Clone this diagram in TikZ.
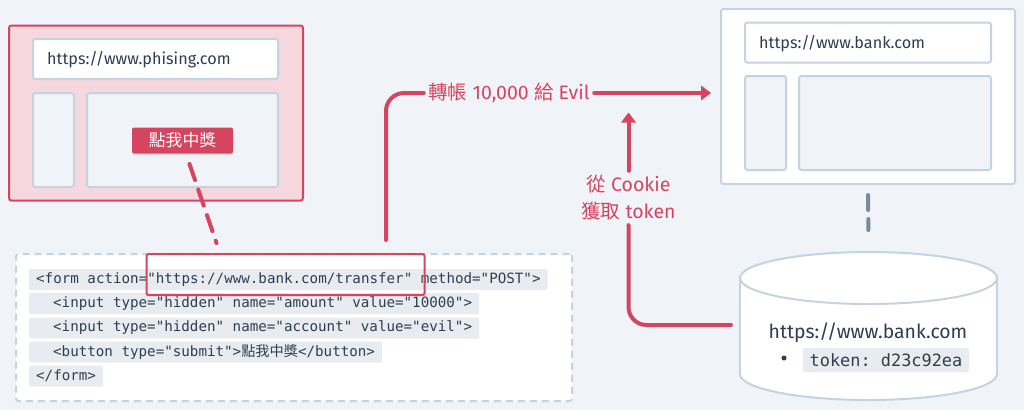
\documentclass[tikz,border=0pt]{standalone}
\usepackage{fontspec}
\setmainfont{Fira Sans}
\setmonofont{DejaVu Sans Mono}
\newfontfamily\cjk{Noto Sans CJK TC}
\usetikzlibrary{shapes.geometric,shadows}

\begin{document}
\begin{tikzpicture}[x=1pt, y=-1pt,
    pane/.style={draw=paneColour, line width=2pt, rounded corners=2.5pt, inner sep=0pt},
    urlText/.style={anchor=west, inner sep=0pt, text=inkColour, font=\fontsize{16.2}{19}\selectfont},
    codeLine/.style={anchor=west, fill=chipColour, rounded corners=1.5pt, text=inkColour, inner xsep=7pt, inner ysep=0pt, minimum height=21pt, font=\fontsize{14.2}{17}\ttfamily},
    flowLabel/.style={text=redColour, align=center, inner sep=4.5pt, font=\fontsize{19.5}{27}\selectfont},
    flow/.style={draw=redColour, line width=4pt, line cap=round, rounded corners=18pt},
    flowTip/.style={fill=redColour, draw=none}]
    \definecolor{backColour}{HTML}{F0F4F8}
    \definecolor{paneColour}{HTML}{C5D3E0}
    \definecolor{redColour}{HTML}{D64560}
    \definecolor{pinkColour}{HTML}{F6D7DD}
    \definecolor{inkColour}{HTML}{2F3E4E}
    \definecolor{chipColour}{HTML}{E8ECF0}
    \definecolor{greyColour}{HTML}{7B8A99}

    % Draw background
    \fill[backColour] (0,0) rectangle (1024,410);
    \useasboundingbox (0,0) rectangle (1024,410);

    % Phishing page
    \node[pane, draw=redColour, fill=pinkColour, minimum width=294pt, minimum height=175pt] (phishBox) at (156,113) {};
    \node[pane, fill=white, minimum width=245pt, minimum height=40pt] (phishUrl) at (155.5,59) {};
    \node[pane, fill=backColour, minimum width=41pt, minimum height=94pt] (phishSide) at (53.5,140) {};
    \node[pane, fill=backColour, minimum width=191pt, minimum height=94pt] (phishMain) at (182.5,140) {};
    \node[urlText] (phishText) at (47,60) {https://www.phising.com};
    \node[fill=redColour, rounded corners=2pt, minimum width=101pt, minimum height=26pt, inner sep=0pt, text=white, drop shadow={opacity=0.15, shadow xshift=0pt, shadow yshift=-2pt}, font=\fontsize{16.8}{20}\cjk] (phishButton) at (182.5,140.5) {點我中獎};

    % Bank page
    \node[pane, fill=white, minimum width=294pt, minimum height=175pt] (bankBox) at (868,96.5) {};
    \node[pane, fill=white, minimum width=246pt, minimum height=40pt] (bankUrl) at (868,42.5) {};
    \node[pane, fill=backColour, minimum width=41pt, minimum height=94pt] (bankSide) at (765.5,123) {};
    \node[pane, fill=backColour, minimum width=192pt, minimum height=94pt] (bankMain) at (895,123) {};
    \node[urlText] (bankText) at (759,43.5) {https://www.bank.com};

    % Code block
    \node[pane, fill=white, dashed, dash pattern=on 7pt off 5pt, minimum width=556pt, minimum height=147pt] (codeBox) at (294,327.5) {};
    \node[codeLine] (lineA) at (29,279.5) {<form action="https://www.bank.com/transfer" method="POST">};
    \node[codeLine] (lineB) at (29,303.5) {\hspace*{17pt}<input type="hidden" name="amount" value="10000">};
    \node[codeLine] (lineC) at (29,328) {\hspace*{17pt}<input type="hidden" name="account" value="evil">};
    \node[codeLine] (lineD) at (29,352) {\hspace*{17pt}<button type="submit">{\cjk 點我中獎}</button>};
    \node[codeLine] (lineE) at (29,376) {</form>};
    \node[draw=redColour, line width=2pt, rounded corners=2pt, minimum width=278pt, minimum height=41pt, inner sep=0pt] (urlMark) at (285.5,274.5) {};

    % Database
    \node[ellipse, pane, fill=white, minimum width=257pt, minimum height=52pt] (dbBottom) at (868.5,374) {};
    \fill[white] (740,278) rectangle (997,374);
    \draw[paneColour, line width=2pt] (740,278) -- (740,374) (997,278) -- (997,374);
    \node[ellipse, pane, fill=white, minimum width=257pt, minimum height=52pt] (dbTop) at (868.5,278) {};
    \node[inner sep=0pt, text=inkColour, font=\fontsize{19.4}{23}\selectfont] (dbText) at (868,333) {https://www.bank.com};
    \node[fill=chipColour, rounded corners=1.5pt, minimum width=166pt, minimum height=24pt, inner sep=0pt, text=inkColour, font=\fontsize{16.9}{20}\ttfamily] (dbToken) at (886,360) {token: d23c92ea};
    \node[circle, fill=inkColour, minimum size=5pt, inner sep=0pt] (dbBullet) at (784,358) {};

    % Labels
    \node[flowLabel] (transferLabel) at (509,93) {{\cjk 轉帳} 10,000 {\cjk 給} Evil};
    \node[flowLabel] (cookieLabel) at (628.5,198) {{\cjk 從} Cookie\\{\cjk 獲取} token};

    % Arrow ends
    \coordinate (clickEnd) at (216.5,243);
    \coordinate (clickStart) at (189.5,164);
    \coordinate (transferStart) at (386,240);
    \coordinate (transferCorner) at (386,93);
    \coordinate (transferTip) at (702,93);
    \coordinate (cookieStart) at (731,325);
    \coordinate (cookieTip) at (628.5,122);

    % Draw connectors
    \draw[flow, dash pattern=on 17pt off 10pt] (clickStart) -- (clickEnd);
    \draw[flow] (transferStart) -- (transferCorner) -- (transferLabel.west);
    \draw[flow] (transferLabel.east) -- (transferTip);
    \fill[flowTip] (711,93) -- (701,85.5) -- (701,100.5) -- cycle;
    \draw[flow] (cookieStart) -| (cookieLabel.south);
    \draw[flow] (cookieLabel.north) -- (cookieTip);
    \fill[flowTip] (628.5,112.5) -- (621,122.5) -- (636,122.5) -- cycle;
    \draw[greyColour, line width=4pt, line cap=round, dash pattern=on 15pt off 9pt, shorten >=21pt, shorten <=10pt] (bankBox.south) -- (dbTop.north);
\end{tikzpicture}
\end{document}
